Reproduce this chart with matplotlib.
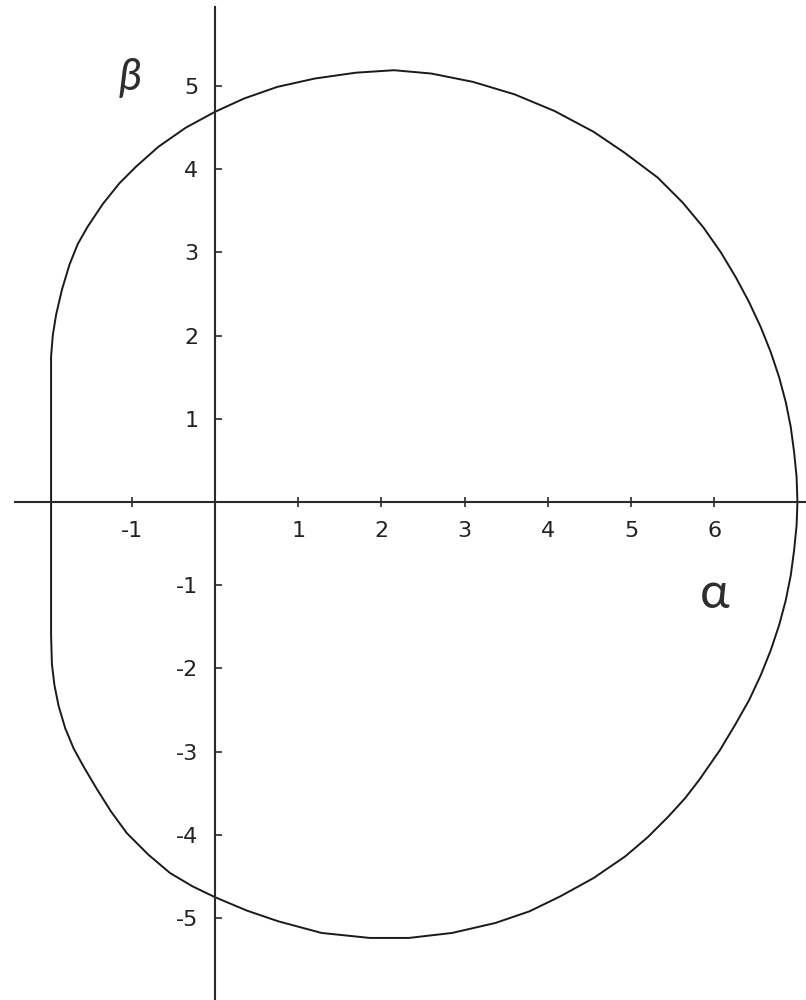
import matplotlib
matplotlib.use("Agg")
import matplotlib.pyplot as plt

# Boundary curve (alpha, beta), counter-clockwise from the right
curve_alpha = [7.00, 6.99, 6.96, 6.92, 6.86, 6.78, 6.68, 6.56, 6.42, 6.26, 6.08, 5.87, 5.62,
               5.32, 4.92, 4.55, 4.08, 3.60, 3.10, 2.60, 2.15,
               1.69, 1.20, 0.75, 0.35, 0.00, -0.35, -0.68, -0.95, -1.15, -1.35, -1.53, -1.65,
               -1.75, -1.84, -1.91, -1.95, -1.97,
               -1.97,
               -1.96, -1.93, -1.88, -1.80, -1.70, -1.58, -1.42, -1.25, -1.06, -0.80, -0.54,
               -0.27, 0.00, 0.38, 0.76, 1.28, 1.86, 2.33, 2.85, 3.37, 3.78, 4.15, 4.55, 4.93,
               5.20, 5.45, 5.65, 5.82, 6.07, 6.25, 6.42, 6.56, 6.68, 6.78, 6.86, 6.92, 6.96,
               6.99, 7.00]
curve_beta = [0.00, 0.30, 0.60, 0.90, 1.20, 1.50, 1.80, 2.10, 2.40, 2.70, 3.00, 3.30, 3.60,
              3.90, 4.20, 4.45, 4.70, 4.90, 5.05, 5.15, 5.19,
              5.16, 5.09, 4.99, 4.85, 4.69, 4.50, 4.27, 4.03, 3.83, 3.58, 3.31, 3.10,
              2.85, 2.55, 2.25, 2.00, 1.75,
              -1.60,
              -1.95, -2.20, -2.45, -2.72, -2.96, -3.18, -3.45, -3.72, -3.98, -4.24, -4.46,
              -4.62, -4.75, -4.91, -5.04, -5.18, -5.24, -5.24, -5.18, -5.06, -4.92, -4.74, -4.52, -4.26,
              -4.03, -3.78, -3.56, -3.34, -2.98, -2.68, -2.38, -2.08, -1.78, -1.48, -1.18, -0.88, -0.58,
              -0.28, 0.00]

alpha_ticks = [-1, 1, 2, 3, 4, 5, 6]
alpha_labels = ["-1", "1", "2", "3", "4", "5", "6"]
beta_ticks = [5, 4, 3, 2, 1, -1, -2, -3, -4, -5]
beta_labels = ["5", "4", "3", "2", "1", "-1", "-2", "-3", "-4", "-5"]

fig = plt.figure(figsize=(8.06, 10.0), dpi=100)
ax = fig.add_axes([0, 0, 1, 1])
ax.set_xlim(-2.584, 7.103)
ax.set_ylim(-5.986, 6.034)
ax.set_aspect("auto")

ax.plot(curve_alpha, curve_beta, color="#1a1a1a", lw=1.4,
        solid_joinstyle="round", solid_capstyle="round")

axis_color = "#2a2a2a"
for side in ["top", "right"]:
    ax.spines[side].set_visible(False)
ax.spines["left"].set_position(("data", 0))
ax.spines["bottom"].set_position(("data", 0))
ax.spines["left"].set_bounds(-6.0, 5.95)
ax.spines["bottom"].set_bounds(-2.40, 7.2)
for side in ["left", "bottom"]:
    ax.spines[side].set_color(axis_color)
    ax.spines[side].set_linewidth(1.5)

ax.set_xticks(alpha_ticks)
ax.set_xticklabels(alpha_labels)
ax.set_yticks(beta_ticks)
ax.set_yticklabels(beta_labels)
ax.tick_params(axis="x", direction="inout", length=7, width=1.2, color=axis_color,
               labelsize=16, pad=10, labelcolor="#222222")
ax.tick_params(axis="y", direction="in", length=5, width=1.2, color=axis_color,
               labelsize=16, pad=12, labelcolor="#222222")

ax.text(-1.02, 5.10, "β", fontsize=32, color="#2e2e2e", ha="center", va="center",
        family=["Lato", "DejaVu Sans"], fontstyle="italic", fontweight="normal")
ax.text(6.01, -1.11, "α", fontsize=36, color="#2e2e2e", ha="center", va="center",
        family=["Lato", "DejaVu Sans"], fontweight="normal")

fig.savefig("out.png", dpi=100, facecolor="white")
